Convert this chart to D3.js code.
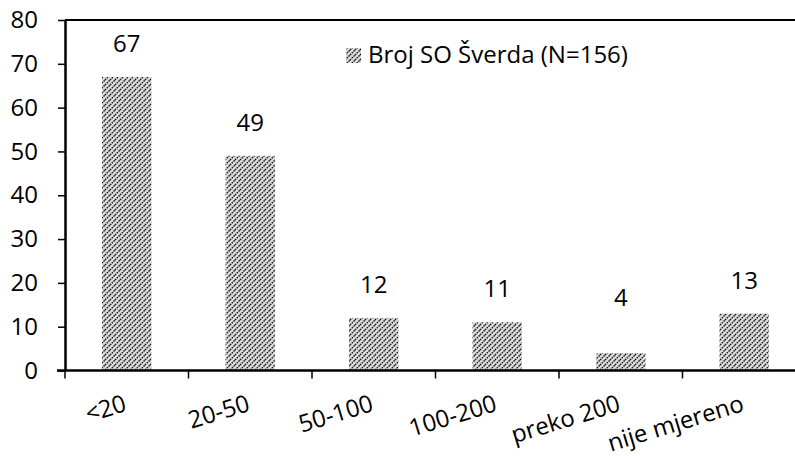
<!DOCTYPE html>
<html><head><meta charset="utf-8">
<script src="https://cdn.jsdelivr.net/npm/d3@7"></script>
<style>body{margin:0;background:#fff}svg{display:block}text{font-family:"Open Sans",Lato,sans-serif;fill:#000}</style>
</head><body><svg id="c" width="795" height="458"></svg>
<script>
const categories = ["<20","20-50","50-100","100-200","preko 200","nije mjereno"];
const values = [67,49,12,11,4,13];
const yTicks = [0,10,20,30,40,50,60,70,80];
const seriesName = "Broj SO Šverda (N=156)";

(function(){
const FS = 24;
const svg = d3.select("#c");
const pLeft = 65, pRight = 806, pTop = 20, pBottom = 370.5;
const x = d3.scaleBand().domain(categories).range([pLeft,pRight]).paddingInner(0.6).paddingOuter(0.3);
const y = d3.scaleLinear().domain([0,80]).range([pBottom,pTop]);

const defs = svg.append("defs");
const pat = defs.append("pattern").attr("id","hatch").attr("patternUnits","userSpaceOnUse")
  .attr("width",5).attr("height",5);
pat.append("rect").attr("width",5).attr("height",5).attr("fill","#dcdcdc");
pat.append("path").attr("d","M-1,1 l2,-2 M0,5 l5,-5 M4,6 l2,-2")
  .attr("stroke","#111").attr("stroke-width",1.3).attr("stroke-dasharray","1.6,0.9");

// plot border
svg.append("line").attr("x1",pLeft).attr("x2",pRight).attr("y1",pTop).attr("y2",pTop)
  .attr("stroke","#000").attr("stroke-width",2);
svg.append("line").attr("x1",pRight).attr("x2",pRight).attr("y1",pTop).attr("y2",pBottom)
  .attr("stroke","#000").attr("stroke-width",2);

// bars
svg.selectAll("rect.bar").data(values).join("rect").attr("class","bar")
  .attr("x",(d,i)=>x(categories[i])).attr("width",x.bandwidth())
  .attr("y",d=>y(d)).attr("height",d=>pBottom-y(d)).attr("fill","url(#hatch)");

// value labels (small values share a common minimum label height)
svg.selectAll("text.val").data(values).join("text").attr("class","val")
  .attr("x",(d,i)=>x(categories[i])+x.bandwidth()/2).attr("y",d=>Math.min(y(d)-25, 306))
  .attr("text-anchor","middle").attr("font-size",FS).text(d=>d);

// y axis
const ya = svg.append("g").attr("transform",`translate(${pLeft},0)`)
  .call(d3.axisLeft(y).tickValues(yTicks).tickSize(7).tickPadding(20).tickSizeOuter(0));
ya.select(".domain").attr("stroke-width",2.5);
ya.selectAll(".tick line").attr("stroke-width",1.5);
ya.selectAll(".tick text").attr("font-size",FS).attr("font-family","'Open Sans',Lato,sans-serif");

// x axis with boundary ticks
const xa = svg.append("g");
xa.append("line").attr("x1",pLeft-8).attr("x2",pRight).attr("y1",pBottom).attr("y2",pBottom)
  .attr("stroke","#000").attr("stroke-width",2.5);
const bounds = categories.map(c=>x(c)-x.step()*x.paddingInner()/2).concat([pRight]);
bounds[0]=pLeft;
xa.selectAll("line.tk").data(bounds).join("line").attr("class","tk")
  .attr("x1",d=>d).attr("x2",d=>d).attr("y1",pBottom).attr("y2",pBottom+8)
  .attr("stroke","#000").attr("stroke-width",1.5);
xa.selectAll("text").data(categories).join("text")
  .attr("transform",c=>`translate(${x(c)+x.bandwidth()/2+1},${pBottom+40}) rotate(-17)`)
  .attr("text-anchor","end").attr("font-size",FS).text(c=>c);

// legend
const lg = svg.append("g");
lg.append("rect").attr("x",346).attr("y",48).attr("width",15).attr("height",15).attr("fill","url(#hatch)");
lg.append("text").attr("x",368).attr("y",63).attr("font-size",FS).text(seriesName);
})();
</script></body></html>
